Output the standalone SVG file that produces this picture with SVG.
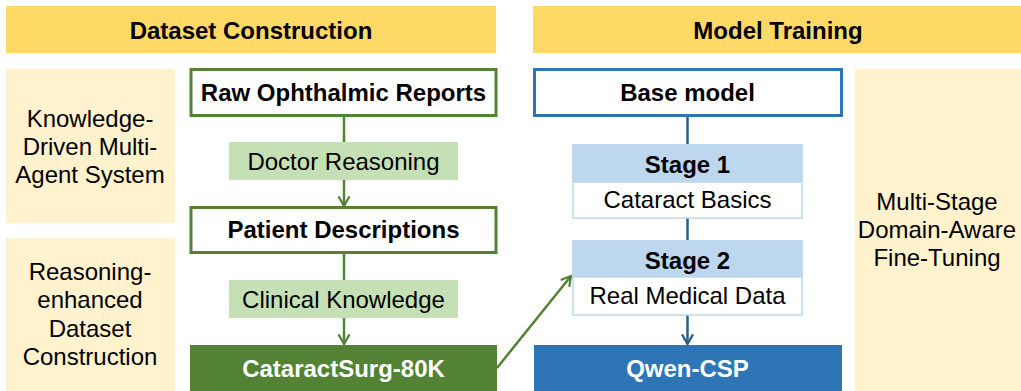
<svg xmlns="http://www.w3.org/2000/svg" width="1021" height="391" viewBox="0 0 1021 391">
<style>
text{font-family:"Liberation Sans",Arial,sans-serif;text-anchor:middle;fill:#000}
.h{font-size:24px;font-weight:bold}
.b{font-size:24px;font-weight:bold}
.r{font-size:24px}
.w{fill:#fff}
.hdr{fill:#FFD966}
.pale{fill:#FFF2CC}
.gbox{fill:#fff;stroke:#548235;stroke-width:3}
.glab{fill:#C5E0B4}
.gline{stroke:#548235;stroke-width:2.5;fill:none}
.bline{stroke:#2A5E8F;stroke-width:2.5;fill:none}
</style>
<defs>
<marker id="ga" viewBox="0 0 10 10" refX="9" refY="5" markerWidth="5.5" markerHeight="5.5" orient="auto" markerUnits="strokeWidth"><path d="M2,1 L9,5 L2,9" fill="none" stroke="#548235" stroke-width="1.6"/></marker>
<marker id="ba" viewBox="0 0 10 10" refX="9" refY="5" markerWidth="5.5" markerHeight="5.5" orient="auto" markerUnits="strokeWidth"><path d="M2,1 L9,5 L2,9" fill="none" stroke="#2A5E8F" stroke-width="1.6"/></marker>
</defs>

<g id="header-dataset"><rect class="hdr" x="6" y="6" width="490" height="47"/><text class="h" x="251" y="39">Dataset Construction</text></g>
<g id="header-training"><rect class="hdr" x="533" y="6" width="488" height="47"/><text class="h" x="778" y="39">Model Training</text></g>

<g id="side-kdmas"><rect class="pale" x="6" y="69" width="169" height="154"/>
<text class="r" x="90" y="127">Knowledge-</text><text class="r" x="90" y="155">Driven Multi-</text><text class="r" x="90" y="183">Agent System</text></g>
<g id="side-redc"><rect class="pale" x="6" y="238" width="169" height="153"/>
<text class="r" x="90" y="280">Reasoning-</text><text class="r" x="90" y="308">enhanced</text><text class="r" x="90" y="337">Dataset</text><text class="r" x="90" y="365">Construction</text></g>
<g id="side-msdaft"><rect class="pale" x="855" y="69" width="166" height="322"/>
<text class="r" x="937" y="210">Multi-Stage</text><text class="r" x="937" y="238">Domain-Aware</text><text class="r" x="937" y="266">Fine-Tuning</text></g>

<g id="connectors">
<line class="gline" x1="344" y1="116" x2="344" y2="142"/>
<line class="gline" x1="344" y1="180" x2="344" y2="206" marker-end="url(#ga)"/>
<line class="gline" x1="344" y1="253" x2="344" y2="280"/>
<line class="gline" x1="344" y1="318" x2="344" y2="344" marker-end="url(#ga)"/>
<line class="gline" x1="497" y1="368" x2="571" y2="276" marker-end="url(#ga)"/>
<line class="bline" x1="687.5" y1="116" x2="687.5" y2="144"/>
<line class="bline" x1="687.5" y1="218" x2="687.5" y2="240"/>
<line class="bline" x1="687.5" y1="315" x2="687.5" y2="344" marker-end="url(#ba)"/>
</g>

<g id="raw-reports"><rect class="gbox" x="191" y="69.5" width="305" height="46"/><text class="b" x="343.5" y="101">Raw Ophthalmic Reports</text></g>
<g id="doctor-reasoning"><rect class="glab" x="229" y="142" width="229" height="38"/><text class="r" x="343.5" y="170">Doctor Reasoning</text></g>
<g id="patient-descriptions"><rect class="gbox" x="191" y="207.5" width="305" height="45"/><text class="b" x="343.5" y="238">Patient Descriptions</text></g>
<g id="clinical-knowledge"><rect class="glab" x="229" y="280" width="229" height="38"/><text class="r" x="343.5" y="308">Clinical Knowledge</text></g>
<g id="cataractsurg"><rect fill="#548235" x="190" y="345" width="307" height="46"/><text class="b w" x="343.5" y="377">CataractSurg-80K</text></g>

<g id="base-model"><rect fill="#fff" stroke="#2E75B6" stroke-width="3" x="534.5" y="69.5" width="307" height="46"/><text class="b" x="687.5" y="101">Base model</text></g>
<g id="stage1"><rect fill="#BDD7EE" x="572" y="144" width="231" height="38"/><rect fill="#fff" stroke="#BDD7EE" stroke-width="1.5" x="573" y="182" width="229" height="36"/>
<text class="b" x="687.5" y="173">Stage 1</text><text class="r" x="687.5" y="208">Cataract Basics</text></g>
<g id="stage2"><rect fill="#BDD7EE" x="572" y="240" width="231" height="37"/><rect fill="#fff" stroke="#BDD7EE" stroke-width="1.5" x="573" y="277" width="229" height="38"/>
<text class="b" x="687.5" y="269">Stage 2</text><text class="r" x="687.5" y="304">Real Medical Data</text></g>
<g id="qwen-csp"><rect fill="#2E75B6" x="534" y="345" width="308" height="46"/><text class="b w" x="687.5" y="377">Qwen-CSP</text></g>
</svg>
